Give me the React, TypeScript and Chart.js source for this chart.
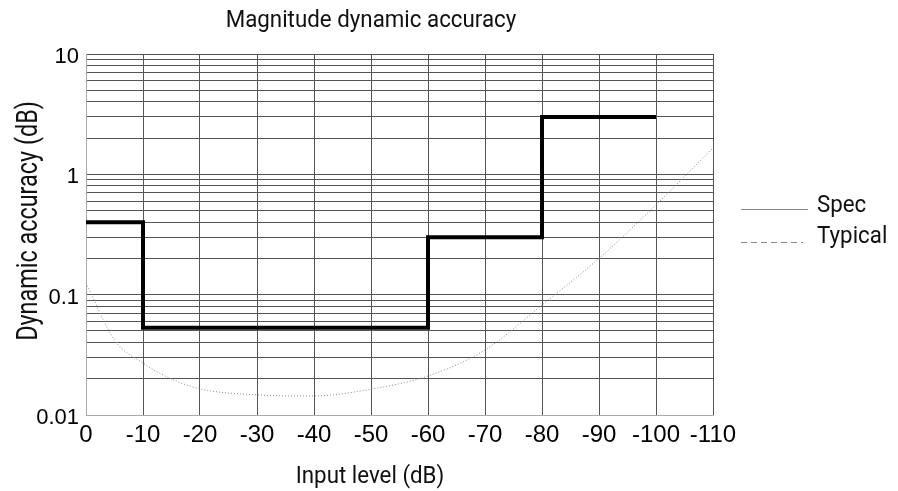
import React, { useEffect, useRef } from 'react';
import { Chart, registerables } from 'chart.js';

Chart.register(...registerables);

// ---- data ----
const chartTitle = 'Magnitude dynamic accuracy';
const xAxisTitle = 'Input level (dB)';
const yAxisTitle = 'Dynamic accuracy (dB)';

const xTickValues = [0, -10, -20, -30, -40, -50, -60, -70, -80, -90, -100, -110];
const yMajorTicks = [0.01, 0.1, 1, 10];
const yMajorLabels = ['0.01', '0.1', '1', '10'];

// Spec (stepped): value holds from this input level until the next one
const specLevels = [0, -10, -60, -80, -100];
const specValues = [0.4, 0.053, 0.3, 3, 3];

// Typical (smooth curve)
const typicalLevels = [0, -5, -10, -15, -20, -30, -40, -50, -60, -70, -80, -90, -100, -110];
const typicalValues = [0.125, 0.042, 0.027, 0.0199, 0.0165, 0.0147, 0.0144, 0.0164, 0.0211, 0.0347, 0.082, 0.2, 0.557, 1.66];

const legendLabels = ['Spec', 'Typical'];

const LABEL_FONT = 'Roboto';
const TICK_FONT = '"Liberation Sans", Arial, sans-serif';

function buildLogTicks(): { value: number }[] {
  const out: { value: number }[] = [];
  for (let e = -2; e <= 0; e++) {
    for (let m = 1; m <= 9; m++) {
      out.push({ value: Number((m * Math.pow(10, e)).toPrecision(3)) });
    }
  }
  out.push({ value: 10 });
  return out;
}

function drawCondensed(
  ctx: CanvasRenderingContext2D,
  text: string,
  x: number,
  y: number,
  size: number,
  k: number,
  align: CanvasTextAlign,
  rotate = 0
) {
  ctx.save();
  ctx.translate(x, y);
  if (rotate) ctx.rotate(rotate);
  ctx.scale(k, 1);
  ctx.font = `${size}px ${LABEL_FONT}`;
  ctx.textAlign = align;
  ctx.textBaseline = 'alphabetic';
  ctx.fillStyle = '#111';
  ctx.fillText(text, 0, 0);
  ctx.restore();
}

const decorPlugin = {
  id: 'decor',
  afterDraw(chart: any) {
    const { ctx, chartArea } = chart;
    const L = chartArea.left;
    const T = chartArea.top;
    const R = chartArea.right;
    const B = chartArea.bottom;

    // Chart title
    drawCondensed(ctx, chartTitle, L + 285, T - 27, 24, 0.93, 'center');
    // X axis title
    drawCondensed(ctx, xAxisTitle, L + 284, B + 68, 24, 0.93, 'center');
    // Y axis title (rotated)
    drawCondensed(ctx, yAxisTitle, L - 49, T + 167, 30, 0.78, 'center', -Math.PI / 2);

    // Legend
    ctx.save();
    const lx0 = R + 28;
    const specY = T + 155;
    const typY = T + 188;
    ctx.lineWidth = 1;
    ctx.strokeStyle = '#888';
    ctx.setLineDash([]);
    ctx.beginPath();
    ctx.moveTo(lx0, specY + 0.5);
    ctx.lineTo(lx0 + 67, specY + 0.5);
    ctx.stroke();
    ctx.setLineDash([6, 4]);
    ctx.beginPath();
    ctx.moveTo(lx0, typY + 0.5);
    ctx.lineTo(lx0 + 62, typY + 0.5);
    ctx.stroke();
    ctx.restore();

    drawCondensed(ctx, legendLabels[0], lx0 + 76, specY + 3, 24, 0.93, 'left');
    drawCondensed(ctx, legendLabels[1], lx0 + 76, typY + 1, 24, 0.93, 'left');
  },
};

export default function App() {
  const canvasRef = useRef<HTMLCanvasElement | null>(null);

  useEffect(() => {
    const canvas = canvasRef.current;
    if (!canvas) return;
    const chart = new Chart(canvas, {
      type: 'line',
      data: {
        datasets: [
          {
            label: legendLabels[0],
            data: specLevels.map((x, i) => ({ x, y: specValues[i] })),
            borderColor: '#000',
            borderWidth: 4,
            stepped: 'before',
            pointRadius: 0,
            fill: false,
          },
          {
            label: legendLabels[1],
            data: typicalLevels.map((x, i) => ({ x, y: typicalValues[i] })),
            borderColor: '#8a8a8a',
            borderWidth: 1,
            borderDash: [1, 2],
            cubicInterpolationMode: 'monotone',
            pointRadius: 0,
            fill: false,
          },
        ],
      },
      options: {
        animation: false,
        responsive: false,
        devicePixelRatio: 1,
        layout: { padding: { top: 54, right: 185, left: 0, bottom: 0 } },
        plugins: {
          legend: { display: false },
          title: { display: false },
          tooltip: { enabled: false },
        },
        scales: {
          x: {
            type: 'linear',
            min: -110,
            max: 0,
            reverse: true,
            afterBuildTicks: (scale: any) => {
              scale.ticks = xTickValues.map((v) => ({ value: v }));
            },
            afterFit: (scale: any) => {
              scale.height = 76;
            },
            ticks: {
              autoSkip: false,
              maxRotation: 0,
              padding: 6,
              color: '#000',
              font: { family: TICK_FONT, size: 24 },
              callback: (v: any) => String(v),
            },
            grid: { color: '#555', lineWidth: 1, drawTicks: false },
            border: { display: true, color: '#aaa' },
            title: { display: false },
          },
          y: {
            type: 'logarithmic',
            min: 0.01,
            max: 10,
            afterBuildTicks: (scale: any) => {
              scale.ticks = buildLogTicks();
            },
            afterFit: (scale: any) => {
              scale.width = 86;
            },
            ticks: {
              autoSkip: false,
              padding: 7,
              labelOffset: 3,
              color: '#000',
              font: { family: TICK_FONT, size: 22 },
              callback: (v: any) => {
                const idx = yMajorTicks.findIndex((t) => Math.abs(t - Number(v)) / t < 1e-6);
                return idx >= 0 ? yMajorLabels[idx] : '';
              },
            },
            grid: { color: '#555', lineWidth: 1, drawTicks: false },
            border: { display: true, color: '#aaa' },
            title: { display: false },
          },
        },
      },
      plugins: [decorPlugin],
    } as any);
    return () => chart.destroy();
  }, []);

  return (
    <div style={{ position: 'fixed', left: 0, top: 0, width: 898, height: 491, background: '#fff' }}>
      <canvas ref={canvasRef} width={898} height={491} style={{ display: 'block' }} />
    </div>
  );
}
